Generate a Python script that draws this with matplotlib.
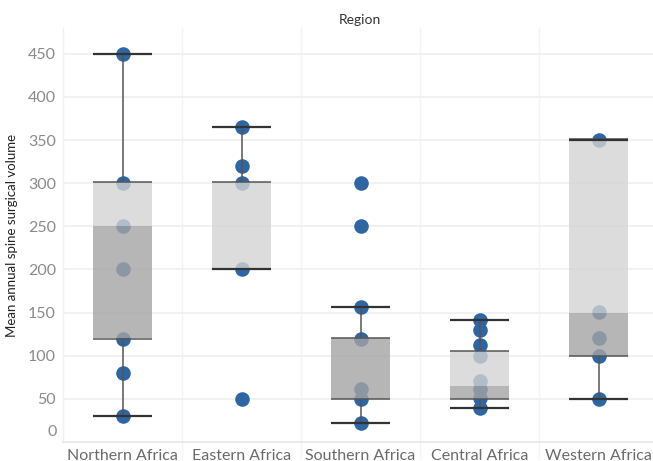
import matplotlib
matplotlib.use("Agg")
import matplotlib.pyplot as plt

regions = ["Northern Africa", "Eastern Africa", "Southern Africa", "Central Africa", "Western Africa"]

# individual country values per region
points = [
    [450, 300, 250, 200, 120, 80, 30],
    [365, 320, 300, 200, 50],
    [300, 250, 157, 120, 62, 50, 22],
    [142, 130, 112, 100, 71, 62, 51, 40],
    [350, 151, 121, 100, 50],
]

# box plot summary
q1 = [120, 200, 50, 50, 100]
median = [250, 200, 120, 65, 150]
q3 = [301, 301, 121, 106, 351]
whisk_lo = [30, 200, 22, 40, 50]
whisk_hi = [450, 365, 157, 141, 350]

yticks = [50, 100, 150, 200, 250, 300, 350, 400, 450]

blue = "#2e66a3"
light = "#d4d4d4"
dark = "#a4a4a4"
grid = "#efefef"

plt.rcParams["font.family"] = ["Lato", "DejaVu Sans"]

fig = plt.figure(figsize=(6.53, 4.61), dpi=100)
ax = fig.add_axes([63 / 653, 19 / 461, 595 / 653, 414 / 461])

ax.set_xlim(-0.5, 4.5)
ax.set_ylim(0, 480)

half = 0.245
for i, name in enumerate(regions):
    ax.plot([i] * len(points[i]), points[i], "o", color=blue, markersize=10.5,
            markeredgewidth=0, zorder=2)
    # lower (dark) and upper (light) halves of the box
    ax.fill_between([i - half, i + half], q1[i], median[i], color=dark, alpha=0.8,
                    linewidth=0, zorder=3)
    ax.fill_between([i - half, i + half], median[i], q3[i], color=light, alpha=0.8,
                    linewidth=0, zorder=3)
    ax.hlines([q1[i], q3[i]], i - half, i + half, color="#555555", linewidth=1.1, zorder=4)
    # whiskers
    ax.vlines(i, whisk_lo[i], q1[i], color="#555555", linewidth=1.1, zorder=4)
    ax.vlines(i, q3[i], whisk_hi[i], color="#555555", linewidth=1.1, zorder=4)
    ax.hlines([whisk_lo[i], whisk_hi[i]], i - half, i + half, color="#333333",
              linewidth=1.6, zorder=4)

# grid and dividers
for y in yticks:
    ax.axhline(y, color=grid, linewidth=1.2, zorder=0)
for x in [0.5, 1.5, 2.5, 3.5]:
    ax.plot([x, x], [-18, 480], color="#f3f3f3", linewidth=1.0, zorder=0, clip_on=False)
ax.plot([-0.5, -0.5], [0, 480], color="#f0f0f0", linewidth=1.0, zorder=0, clip_on=False)
ax.plot([-0.5, 4.5], [0, 0], color="#e6e6e6", linewidth=1.2, zorder=0, clip_on=False)

for s in ax.spines.values():
    s.set_visible(False)

ax.set_yticks(yticks)
ax.set_yticklabels([str(v) for v in yticks])
ax.tick_params(axis="y", length=0, pad=5, labelsize=11.5, labelcolor="#8a8a8a")
ax.text(-0.55, 4, "0", ha="right", va="bottom", fontsize=11.5, color="#8a8a8a")

ax.set_xticks(range(len(regions)))
ax.set_xticklabels(regions)
ax.tick_params(axis="x", length=0, pad=5, labelsize=11.5, labelcolor="#6a6a6a")

ax.set_ylabel("Mean annual spine surgical volume", fontsize=9.5, color="#222222", labelpad=7)
fig.text(360 / 653, 1 - 20 / 461, "Region", ha="center", va="center", fontsize=10,
         color="#333333")

fig.savefig("out.png", dpi=100)
